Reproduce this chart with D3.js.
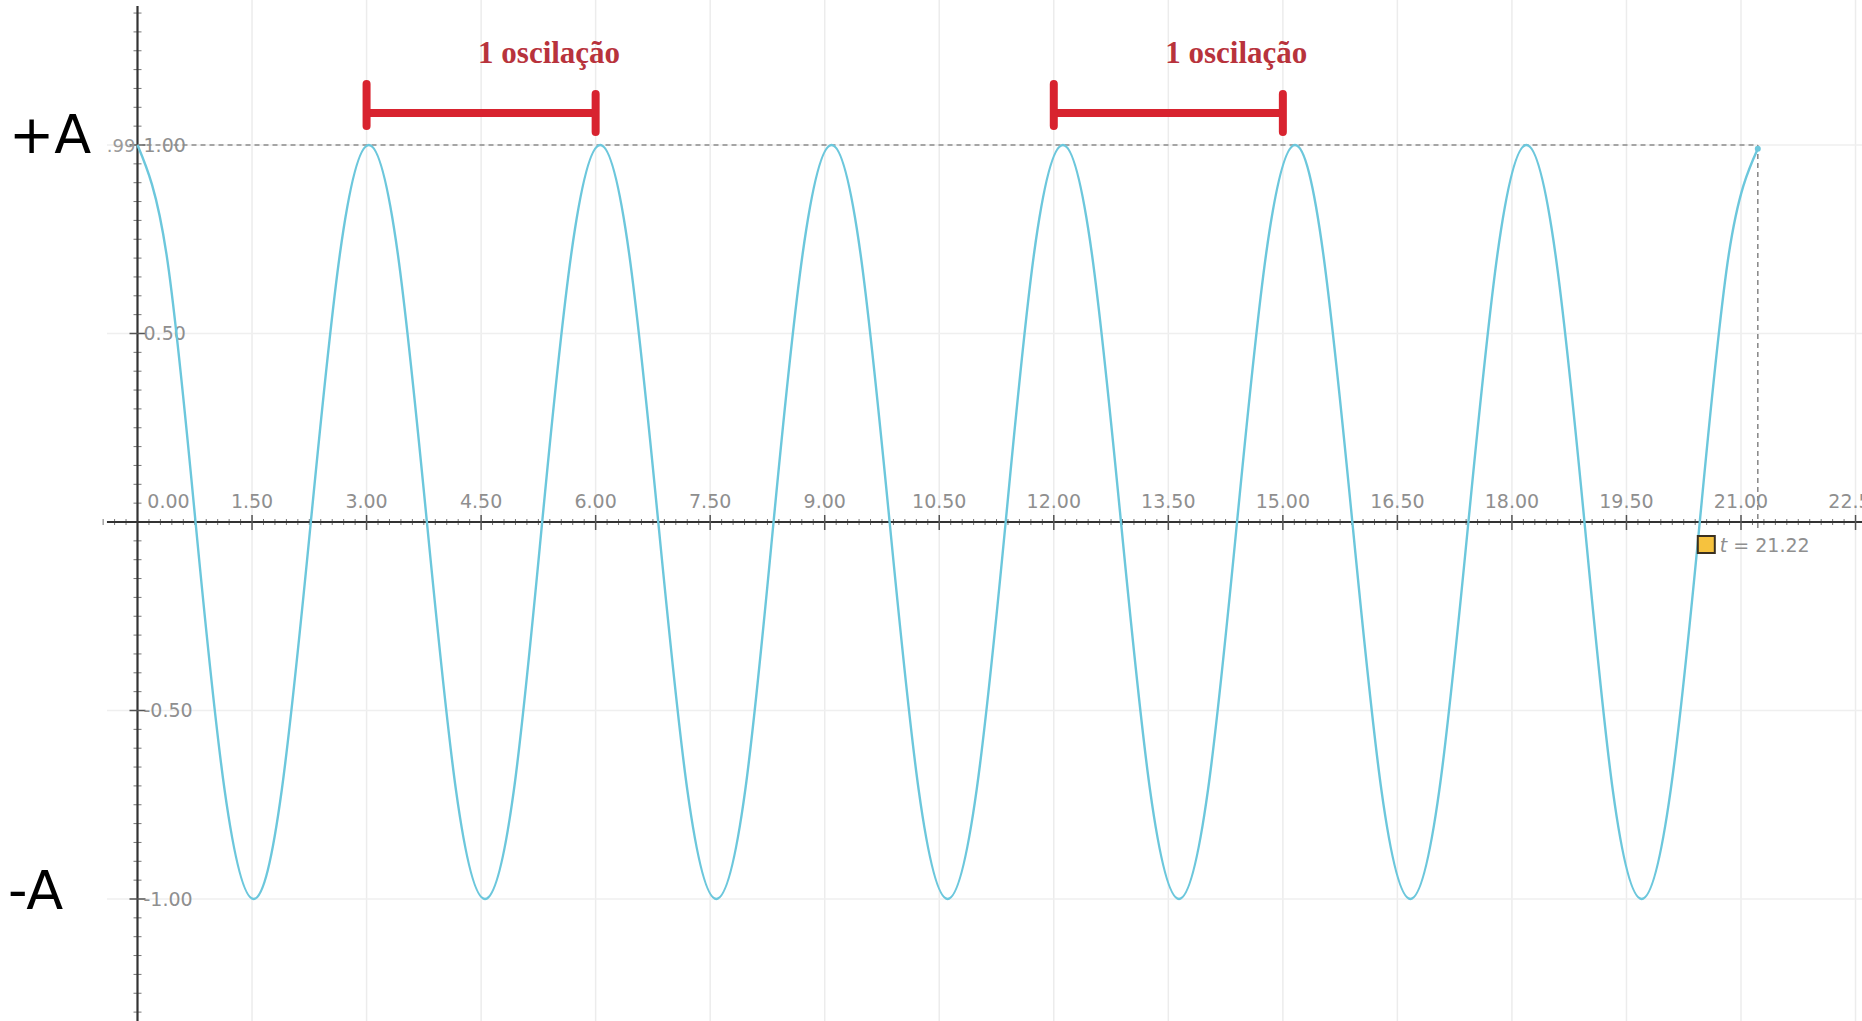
<!DOCTYPE html>
<html>
<head>
<meta charset="utf-8">
<script src="https://cdn.jsdelivr.net/npm/d3@7"></script>
<style>
  html, body { margin: 0; padding: 0; background: #fff; overflow: hidden; }
  svg { display: block; }
</style>
</head>
<body>
<script>
// values (time t, elongation y)
var tValues = [0, 0.38, 0.76, 1.14, 1.52, 1.89, 2.27, 2.65,
  3.03, 3.41, 3.79, 4.17, 4.55, 4.93, 5.30, 5.68,
  6.06, 6.44, 6.82, 7.20, 7.58, 7.96, 8.33, 8.71,
  9.09, 9.47, 9.85, 10.23, 10.61, 10.99, 11.37, 11.74,
  12.12, 12.50, 12.88, 13.26, 13.64, 14.02, 14.40, 14.78,
  15.16, 15.53, 15.91, 16.29, 16.67, 17.05, 17.43, 17.81,
  18.19, 18.57, 18.95, 19.32, 19.70, 20.08, 20.46, 20.84,
  21.22];
var yValues = [1, 0.71, 0, -0.71, -1, -0.71, 0, 0.71,
  1, 0.71, 0, -0.71, -1, -0.71, 0, 0.71,
  1, 0.71, 0, -0.71, -1, -0.71, 0, 0.71,
  1, 0.71, 0, -0.71, -1, -0.71, 0, 0.71,
  1, 0.71, 0, -0.71, -1, -0.71, 0, 0.71,
  1, 0.71, 0, -0.71, -1, -0.71, 0, 0.71,
  1, 0.71, 0, -0.71, -1, -0.71, 0, 0.71,
  0.99];

var xTicks = [0, 1.5, 3, 4.5, 6, 7.5, 9, 10.5, 12, 13.5, 15, 16.5, 18, 19.5, 21, 22.5];
var xTickLabels = ["0.00", "1.50", "3.00", "4.50", "6.00", "7.50", "9.00", "10.50", "12.00",
  "13.50", "15.00", "16.50", "18.00", "19.50", "21.00", "22.50"];
var yTicks = [1, 0.5, -0.5, -1];
var yTickLabels = ["1.00", "0.50", "-0.50", "-1.00"];

var cursorT = 21.22;
var cursorY = 0.99;

// the two red brackets (start, end of one oscillation)
var bracketStart = [3, 12];
var bracketEnd = [6, 15];
var bracketText = ["1 oscilação", "1 oscilação"];

var W = 1862, H = 1021;

var x = d3.scaleLinear().domain([0, 21]).range([137.5, 1741]);
var y = d3.scaleLinear().domain([1, -1]).range([145, 899]);

var svg = d3.select("body").append("svg")
  .attr("width", W)
  .attr("height", H);

// grid
var grid = svg.append("g");
grid.selectAll("line.vg")
  .data(xTicks.filter(function(d) { return d > 0; }))
  .enter().append("line")
  .attr("x1", function(d) { return x(d); })
  .attr("x2", function(d) { return x(d); })
  .attr("y1", 0)
  .attr("y2", H)
  .attr("stroke", "#ececec")
  .attr("stroke-width", 1.5);
grid.selectAll("line.hg")
  .data(yTicks)
  .enter().append("line")
  .attr("x1", x(-0.4))
  .attr("x2", W)
  .attr("y1", function(d) { return y(d); })
  .attr("y2", function(d) { return y(d); })
  .attr("stroke", "#efefef")
  .attr("stroke-width", 1.5);

// minor ticks
var xMinor = d3.range(-0.45, 22.6, 0.15).filter(function(d) {
  return Math.abs(d / 1.5 - Math.round(d / 1.5)) > 0.01;
});
var yMinor = d3.range(-1.3, 1.36, 0.05).filter(function(d) {
  return Math.abs(d / 0.5 - Math.round(d / 0.5)) > 0.01;
});

var axes = svg.append("g");
axes.selectAll("line.xm")
  .data(xMinor)
  .enter().append("line")
  .attr("x1", function(d) { return x(d); })
  .attr("x2", function(d) { return x(d); })
  .attr("y1", y(0) - 3)
  .attr("y2", y(0) + 3)
  .attr("stroke", "#777")
  .attr("stroke-width", 1);
axes.selectAll("line.ym")
  .data(yMinor)
  .enter().append("line")
  .attr("x1", x(0) - 4)
  .attr("x2", x(0) + 4)
  .attr("y1", function(d) { return y(d); })
  .attr("y2", function(d) { return y(d); })
  .attr("stroke", "#777")
  .attr("stroke-width", 1);

// axis lines
axes.append("line")
  .attr("x1", x(-0.4)).attr("x2", W)
  .attr("y1", y(0)).attr("y2", y(0))
  .attr("stroke", "#333").attr("stroke-width", 2.2);
axes.append("line")
  .attr("x1", x(0)).attr("x2", x(0))
  .attr("y1", 6).attr("y2", H)
  .attr("stroke", "#333").attr("stroke-width", 2.2);

// major ticks
axes.selectAll("line.xM")
  .data(xTicks.filter(function(d) { return d > 0; }))
  .enter().append("line")
  .attr("x1", function(d) { return x(d); })
  .attr("x2", function(d) { return x(d); })
  .attr("y1", y(0) - 7)
  .attr("y2", y(0) + 8)
  .attr("stroke", "#555")
  .attr("stroke-width", 1.5);
axes.selectAll("line.yM")
  .data(yTicks)
  .enter().append("line")
  .attr("x1", x(0) - 8)
  .attr("x2", x(0) + 8)
  .attr("y1", function(d) { return y(d); })
  .attr("y2", function(d) { return y(d); })
  .attr("stroke", "#555")
  .attr("stroke-width", 1.5);

// tick labels
var labelFont = "'DejaVu Sans', sans-serif";
axes.selectAll("text.xl")
  .data(xTicks)
  .enter().append("text")
  .attr("x", function(d, i) { return i == 0 ? x(d) + 31 : x(d); })
  .attr("y", y(0) - 14)
  .attr("text-anchor", "middle")
  .style("font-family", labelFont)
  .style("font-size", "19px")
  .style("fill", "#8f8f8f")
  .text(function(d, i) { return xTickLabels[i]; });
axes.selectAll("text.yl")
  .data(yTicks)
  .enter().append("text")
  .attr("x", x(0) + 6)
  .attr("y", function(d) { return y(d); })
  .attr("dy", "0.35em")
  .style("font-family", labelFont)
  .style("font-size", "19px")
  .style("fill", "#8f8f8f")
  .text(function(d, i) { return yTickLabels[i]; });

// cursor dashed guides
svg.append("line")
  .attr("x1", x(0)).attr("x2", x(cursorT))
  .attr("y1", y(1)).attr("y2", y(1))
  .attr("stroke", "#8c8c8c").attr("stroke-width", 1.6)
  .attr("stroke-dasharray", "5,4");
svg.append("line")
  .attr("x1", x(cursorT)).attr("x2", x(cursorT))
  .attr("y1", y(1)).attr("y2", y(0) + 8)
  .attr("stroke", "#8c8c8c").attr("stroke-width", 1.6)
  .attr("stroke-dasharray", "5,4");
svg.append("text")
  .attr("x", x(0) - 2)
  .attr("y", y(1))
  .attr("dy", "0.4em")
  .attr("text-anchor", "end")
  .style("font-family", labelFont)
  .style("font-size", "18px")
  .style("fill", "#9a9a9a")
  .text(".99");

// the wave
var pts = tValues.map(function(t, i) { return [t, yValues[i]]; });
var line = d3.line()
  .x(function(d) { return x(d[0]); })
  .y(function(d) { return y(d[1]); })
  .curve(d3.curveNatural);
svg.append("path")
  .datum(pts)
  .attr("d", line)
  .attr("fill", "none")
  .attr("stroke", "#6cc7dc")
  .attr("stroke-width", 2.4);
svg.append("circle")
  .attr("cx", x(cursorT)).attr("cy", y(cursorY))
  .attr("r", 3)
  .attr("fill", "#6cc7dc");

// cursor marker
svg.append("rect")
  .attr("x", x(cursorT) - 60)
  .attr("y", y(0) + 14)
  .attr("width", 17).attr("height", 17)
  .attr("fill", "#f6c23e")
  .attr("stroke", "#3a3020").attr("stroke-width", 2);
var lab = svg.append("text")
  .attr("x", x(cursorT) - 38)
  .attr("y", y(0) + 30)
  .style("font-family", labelFont)
  .style("font-size", "19px")
  .style("fill", "#8f8f8f");
lab.append("tspan").style("font-style", "italic").text("t");
lab.append("tspan").text(" = " + cursorT.toFixed(2));

// red brackets
var red = "#d8232f";
var bracketY = 1.085;
var br = svg.append("g");
bracketStart.forEach(function(s, i) {
  var e = bracketEnd[i];
  br.append("line")
    .attr("x1", x(s)).attr("x2", x(e))
    .attr("y1", y(bracketY)).attr("y2", y(bracketY))
    .attr("stroke", red).attr("stroke-width", 8);
  br.append("line")
    .attr("x1", x(s)).attr("x2", x(s))
    .attr("y1", y(bracketY) - 29).attr("y2", y(bracketY) + 13)
    .attr("stroke", red).attr("stroke-width", 8).attr("stroke-linecap", "round");
  br.append("line")
    .attr("x1", x(e)).attr("x2", x(e))
    .attr("y1", y(bracketY) - 19).attr("y2", y(bracketY) + 19)
    .attr("stroke", red).attr("stroke-width", 8).attr("stroke-linecap", "round");
  br.append("text")
    .attr("x", x((s + e) / 2) + 68)
    .attr("y", y(bracketY) - 50)
    .attr("text-anchor", "middle")
    .style("font-family", "'Liberation Serif', serif")
    .style("font-weight", "bold")
    .style("font-size", "31px")
    .style("fill", "#b8333c")
    .text(bracketText[i]);
});

// amplitude labels
svg.append("text")
  .attr("x", 9).attr("y", 153)
  .style("font-family", labelFont)
  .style("font-size", "54px")
  .style("fill", "#000")
  .text("+A");
svg.append("text")
  .attr("x", 8).attr("y", 909)
  .style("font-family", labelFont)
  .style("font-size", "54px")
  .style("fill", "#000")
  .text("-A");
</script>
</body>
</html>
